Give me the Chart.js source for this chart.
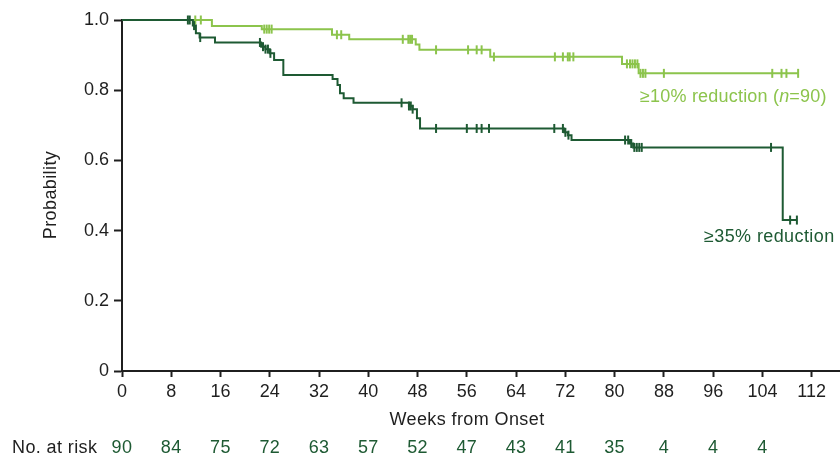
<!DOCTYPE html>
<html>
<head>
<meta charset="utf-8">
<script src="https://cdn.jsdelivr.net/npm/chart.js@4/dist/chart.umd.min.js"></script>
<style>
  html, body { margin: 0; padding: 0; background: #fff; }
  #wrap { width: 840px; height: 458px; }
</style>
</head>
<body>
<div id="wrap"><canvas id="km"></canvas></div>
<script>
const xTicks = [0, 8, 16, 24, 32, 40, 48, 56, 64, 72, 80, 88, 96, 104, 112];
const yTicks = [0, 0.2, 0.4, 0.6, 0.8, 1.0];
const riskWeeks = [0, 8, 16, 24, 32, 40, 48, 56, 64, 72, 80, 88, 96, 104];
const riskCounts = [90, 84, 75, 72, 63, 57, 52, 47, 43, 41, 35, 4, 4, 4];

// >=10% reduction: event times (weeks) and survival after each step
const lightTimes = [0, 14.6, 22.7, 34.1, 36.9, 47.7, 48.3, 59.8, 81.2, 83.9, 109.8];
const lightSurv = [1, 0.983, 0.974, 0.958, 0.945, 0.93, 0.915, 0.895, 0.875, 0.848, 0.848];
const lightCensor = [11.9, 12.8, 23.1, 23.5, 23.9, 24.3, 34.9, 35.6, 45.6, 46.5, 46.8, 47.1,
  51, 56.2, 57.6, 58.4, 60.4, 70.3, 71.6, 72.4, 72.7, 73.3, 82, 82.5, 82.9, 83.3, 83.7,
  84.2, 84.6, 85.0, 88, 105.6, 107.1, 107.9, 109.8];

// >=35% reduction
const darkTimes = [0, 11.5, 12.0, 12.6, 15.1, 22.6, 23.3, 24.0, 24.7, 26.2, 34.2, 35.0, 35.4,
  36.0, 37.6, 46.6, 47.2, 47.9, 48.4, 71.8, 72.4, 73.0, 82.5, 83.0, 107.3, 109.6];
const darkSurv = [1, 0.984, 0.962, 0.95, 0.936, 0.924, 0.917, 0.905, 0.886, 0.843, 0.832, 0.815,
  0.791, 0.777, 0.764, 0.755, 0.746, 0.72, 0.691, 0.68, 0.672, 0.658, 0.648, 0.637, 0.43, 0.43];
const darkCensor = [10.7, 11.0, 11.7, 12.7, 22.4, 22.9, 23.3, 23.7, 24.1, 45.4, 46.6, 46.9, 47.2,
  51, 56, 57.6, 58.4, 59.6, 70.2, 71.6, 72.0, 72.5, 81.7, 82.2, 82.7, 83.2, 83.6, 84.0, 84.4,
  105.4, 108.5, 109.6];

const LIGHT = '#8cc44c';
const DARK = '#1e5a33';
const INK = '#1f1f1f';
const FONT = '"Liberation Sans", Arial, sans-serif';
const SIZE = 18;

function survAt(times, surv, t) {
  let s = surv[0];
  for (let i = 0; i < times.length; i++) {
    if (times[i] <= t) s = surv[i];
  }
  return s;
}

const toPoints = (times, surv) => times.map((t, i) => ({ x: t, y: surv[i] }));
const censorPoints = (cens, times, surv) => cens.map(t => ({ x: t, y: survAt(times, surv, t) }));

const curveLabels = {
  id: 'curveLabels',
  afterDraw(chart) {
    const { ctx, scales: { x } } = chart;
    ctx.save();
    ctx.textBaseline = 'middle';
    ctx.letterSpacing = '0.4px';

    ctx.font = SIZE + 'px ' + FONT;
    ctx.fillStyle = INK;
    ctx.textAlign = 'center';
    ctx.fillText('Weeks from Onset', 467, 420);

    ctx.textAlign = 'left';
    ctx.fillText('No. at risk', 12, 448);

    ctx.textAlign = 'center';
    ctx.fillStyle = DARK;
    riskWeeks.forEach((w, i) => {
      ctx.fillText(String(riskCounts[i]), x.getPixelForValue(w), 448);
    });

    ctx.save();
    ctx.fillStyle = INK;
    ctx.translate(51, 195);
    ctx.rotate(-Math.PI / 2);
    ctx.fillText('Probability', 0, 0);
    ctx.restore();

    // >=10% label with italic n
    ctx.textAlign = 'left';
    ctx.fillStyle = LIGHT;
    ctx.letterSpacing = '0.2px';
    let px = 640;
    const parts = [['≥10% reduction (', SIZE + 'px ' + FONT], ['n', 'italic ' + SIZE + 'px ' + FONT], ['=90)', SIZE + 'px ' + FONT]];
    parts.forEach(([txt, f]) => {
      ctx.font = f;
      ctx.fillText(txt, px, 97);
      px += ctx.measureText(txt).width;
    });

    ctx.letterSpacing = '0.4px';
    ctx.font = SIZE + 'px ' + FONT;
    ctx.fillStyle = DARK;
    ctx.fillText('≥35% reduction', 704, 237);

    ctx.restore();
  }
};

new Chart(document.getElementById('km'), {
  type: 'line',
  data: {
    datasets: [
      {
        data: censorPoints(darkCensor, darkTimes, darkSurv),
        showLine: false,
        pointStyle: 'line',
        rotation: 90,
        pointRadius: 4.5,
        pointBorderWidth: 2,
        pointBorderColor: DARK,
        borderColor: DARK,
        clip: false
      },
      {
        data: toPoints(darkTimes, darkSurv),
        stepped: true,
        borderColor: DARK,
        borderWidth: 2,
        pointRadius: 0,
        clip: false
      },
      {
        data: censorPoints(lightCensor, lightTimes, lightSurv),
        showLine: false,
        pointStyle: 'line',
        rotation: 90,
        pointRadius: 4.5,
        pointBorderWidth: 2,
        pointBorderColor: LIGHT,
        borderColor: LIGHT,
        clip: false
      },
      {
        data: toPoints(lightTimes, lightSurv),
        stepped: true,
        borderColor: LIGHT,
        borderWidth: 2,
        pointRadius: 0,
        clip: false
      }
    ]
  },
  options: {
    responsive: true,
    maintainAspectRatio: false,
    animation: false,
    layout: { autoPadding: false, padding: { top: 20, right: 0, left: 0, bottom: 0 } },
    plugins: { legend: { display: false }, tooltip: { enabled: false } },
    scales: {
      x: {
        type: 'linear',
        min: 0,
        max: 116.6,
        afterBuildTicks(scale) { scale.ticks = xTicks.map(v => ({ value: v })); },
        afterFit(scale) {
          scale.height = 87;
          scale.paddingLeft = 0;
          scale.paddingRight = 0;
        },
        border: { color: INK, width: 2 },
        grid: { drawOnChartArea: false, drawTicks: true, tickLength: 6, color: INK, tickWidth: 2 },
        ticks: { font: { size: SIZE, family: FONT }, color: INK, padding: 4, maxRotation: 0, autoSkip: false }
      },
      y: {
        min: 0,
        max: 1,
        afterBuildTicks(scale) { scale.ticks = yTicks.map(v => ({ value: v })); },
        afterFit(scale) {
          scale.width = 122;
          scale.paddingTop = 0;
          scale.paddingBottom = 0;
        },
        border: { color: INK, width: 2 },
        grid: { drawOnChartArea: false, drawTicks: true, tickLength: 8, color: INK, tickWidth: 2 },
        ticks: {
          font: { size: SIZE, family: FONT },
          color: INK,
          padding: 5,
          callback: v => (v === 0 ? '0' : v.toFixed(1))
        }
      }
    }
  },
  plugins: [curveLabels]
});
</script>
</body>
</html>
